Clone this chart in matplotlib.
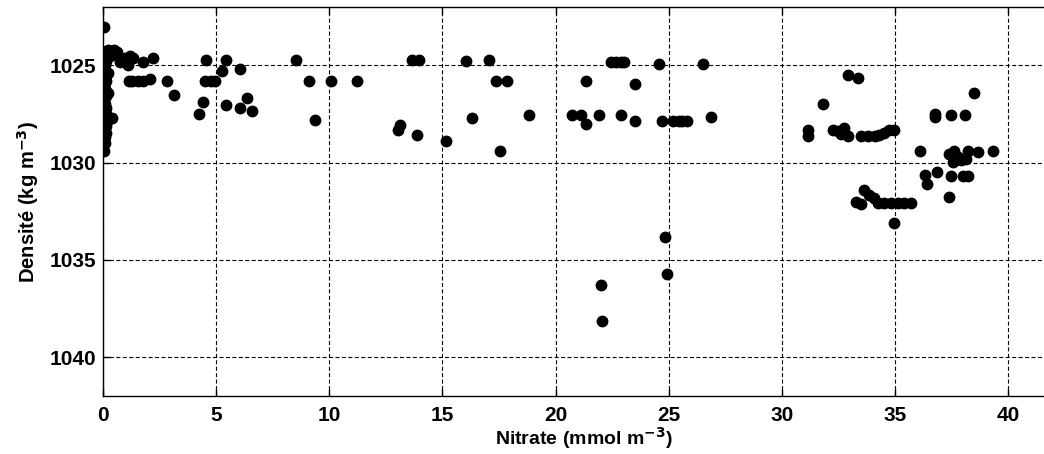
import matplotlib
matplotlib.use("Agg")
import matplotlib.pyplot as plt

plt.rcParams['font.family'] = ['Liberation Sans', 'DejaVu Sans']
plt.rcParams['mathtext.default'] = 'bf'

# Near-zero vertical profile
col_x = [0.1, 0.2, 0.05, 0.15, 0.1, 0.0, 0.2, 0.1, 0.15, 0.05, 0.1, 0.2, 0.15, 0.05,
         0.1, 0.12, 0.08, 0.15, 0.05, 0.1, 0.2, 0.38, 0.1, 0.05, 0.12, 0.08, 0.1, 0.05,
         0.0, 0.15, 0.05, 0.1]
col_y = [1024.3, 1024.4, 1024.6, 1024.8, 1025.0, 1025.2, 1025.4, 1025.6, 1025.8, 1026.0,
         1026.2, 1026.4, 1026.6, 1026.8, 1027.0, 1027.2, 1027.4, 1027.5, 1027.6, 1027.7,
         1027.8, 1027.7, 1028.0, 1028.3, 1028.5, 1028.7, 1029.0, 1029.4, 1028.9, 1028.1,
         1026.5, 1025.3]

nitrate = [0.04, 0.2, 0.4, 0.6, 0.3, 0.5,
           0.31, 0.53, 0.75, 0.97, 1.19, 1.1, 1.33, 1.77, 2.2,
           1.15, 1.28, 1.55, 1.77, 2.08, 2.83, 3.14,
           4.56, 5.27, 5.44, 6.06, 4.5, 4.75, 4.95, 4.43, 4.25, 5.44, 6.06, 6.37, 6.6,
           8.53, 9.08, 10.09, 11.22, 9.35, 13.66, 13.95, 13.14, 13.04, 13.87, 15.15,
           16.06, 17.05, 16.31, 17.35, 17.54, 17.83, 18.82,
           20.74, 21.1, 21.33, 21.36, 21.92, 22.43, 22.65, 22.88, 23.02, 22.88, 23.5, 23.5,
           24.58, 24.72, 25.2, 25.45, 25.6, 25.82, 26.49, 26.88,
           22.02, 22.06, 24.9, 24.85,
           32.93, 33.38, 31.8, 31.13, 31.13, 32.24, 32.46, 32.76, 32.9, 32.6,
           33.5, 33.8, 34.1, 34.3, 34.5, 34.75, 34.97,
           38.48, 36.74, 36.74, 37.45, 38.07, 36.08,
           37.4, 37.62, 37.77, 37.92, 37.55, 38.21, 38.65, 38.14, 39.32,
           36.3, 36.42, 36.86, 37.45, 37.99, 38.24, 37.37,
           33.64, 33.85, 33.27, 33.5, 34.23, 34.52, 34.82, 35.12, 35.4, 35.7, 34.08, 34.97]
density = [1023.04, 1024.2, 1024.3, 1024.3, 1024.5, 1024.2,
           1024.4, 1024.4, 1024.85, 1024.6, 1024.5, 1025.0, 1024.6, 1024.85, 1024.6,
           1025.8, 1025.8, 1025.8, 1025.8, 1025.7, 1025.8, 1026.5,
           1024.7, 1025.3, 1024.7, 1025.2, 1025.8, 1025.8, 1025.8, 1026.9, 1027.5, 1027.05, 1027.2, 1026.7, 1027.35,
           1024.71, 1025.82, 1025.82, 1025.82, 1027.79, 1024.74, 1024.7, 1028.08, 1028.3, 1028.6, 1028.9,
           1024.8, 1024.7, 1027.73, 1025.82, 1029.39, 1025.82, 1027.53,
           1027.53, 1027.53, 1028.04, 1025.82, 1027.53, 1024.83, 1024.83, 1024.83, 1024.83, 1027.53, 1025.94, 1027.87,
           1024.93, 1027.87, 1027.87, 1027.87, 1027.87, 1027.87, 1024.93, 1027.68,
           1036.28, 1038.13, 1035.73, 1033.8,
           1025.51, 1025.65, 1027.0, 1028.3, 1028.64, 1028.3, 1028.4, 1028.2, 1028.64, 1028.54,
           1028.64, 1028.64, 1028.64, 1028.6, 1028.47, 1028.33, 1028.3,
           1026.42, 1027.48, 1027.68, 1027.53, 1027.53, 1029.39,
           1029.56, 1029.39, 1029.7, 1029.87, 1029.96, 1029.39, 1029.44, 1029.82, 1029.39,
           1030.64, 1031.12, 1030.5, 1030.7, 1030.7, 1030.7, 1031.78,
           1031.4, 1031.67, 1032.0, 1032.15, 1032.06, 1032.06, 1032.06, 1032.06, 1032.06, 1032.06, 1031.84, 1033.12]

x_ticks = [0, 5, 10, 15, 20, 25, 30, 35, 40]
y_ticks = [1025, 1030, 1035, 1040]

fig = plt.figure(figsize=(10.44, 4.54), dpi=100)
ax = fig.add_axes([103/1044, 1 - 396/454, 1 - 103/1044 + 0.02, (396 - 7)/454])

ax.plot(col_x, col_y, 'o', color='black', markersize=7.5, linestyle='none')
ax.plot(nitrate, density, 'o', color='black', markersize=7.5, linestyle='none')

ax.set_xlim(0, 42.5)
ax.set_ylim(1042, 1022)
ax.set_xticks(x_ticks)
ax.set_yticks(y_ticks)
ax.set_xticklabels([str(t) for t in x_ticks], fontsize=15, fontweight='bold')
ax.set_yticklabels([str(t) for t in y_ticks], fontsize=15, fontweight='bold')
ax.tick_params(axis='x', direction='in', length=5, width=1, top=True, pad=7)
ax.tick_params(axis='y', direction='in', length=5, width=1, right=True, pad=5)
ax.grid(True, color='black', linestyle=(0, (3.6, 2.2)), linewidth=0.8)
for s in ax.spines.values():
    s.set_linewidth(1.0)

ax.set_xlabel('Nitrate (mmol m$^{-3}$)', fontsize=14, fontweight='bold', labelpad=0)
ax.set_ylabel('Densité (kg m$^{-3}$)', fontsize=14.5, fontweight='bold', labelpad=6)

fig.savefig('out.png', dpi=100)
